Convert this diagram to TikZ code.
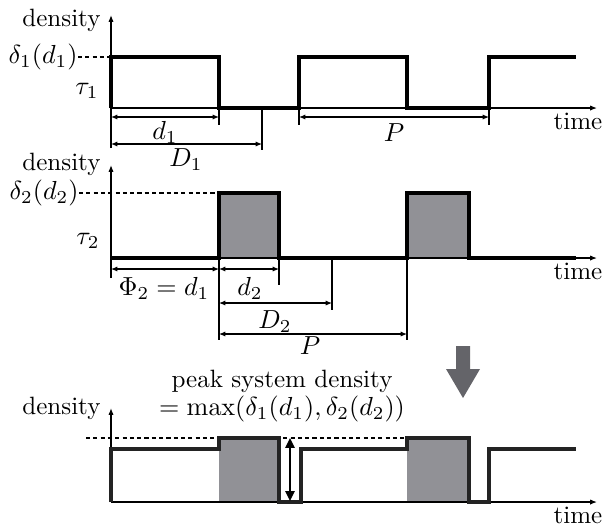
\documentclass[tikz,border=0pt]{standalone}
\usetikzlibrary{arrows.meta}
\definecolor{pulsegray}{RGB}{145,145,150}
\definecolor{bigarrow}{RGB}{100,100,105}
\definecolor{sumline}{RGB}{35,35,35}
\begin{document}
\begin{tikzpicture}[x=0.3833pt,y=-0.3833pt,
  every node/.style={font=\fontsize{9.6pt}{11.2pt}\selectfont},
  sig/.style={line width=1.6pt,line join=miter},
  thinline/.style={line width=0.45pt},
  dimline/.style={line width=0.45pt,{Latex[length=2.4pt,width=2pt]}-{Latex[length=2.4pt,width=2pt]}},
  axisline/.style={line width=0.45pt,-{Latex[length=2.6pt,width=2pt]}},
  guide/.style={line width=0.45pt,dash pattern=on 1.6pt off 1.2pt},
  lbl/.style={inner sep=0pt},
  pulse/.style={fill=pulsegray}]
\useasboundingbox (0,0) rectangle (606,528);

% ---------------- top panel ----------------
\coordinate (a1b) at (111,148); \coordinate (a1t) at (111,15);
\coordinate (t1l) at (111,108); \coordinate (t1r) at (597,108);
\draw[axisline] (a1b) -- (a1t);
\draw[axisline] (t1l) -- (t1r);
\node[lbl,anchor=base east] (den1) at (101,26) {density};
\node[lbl] (time1) at (578,121) {time};
\node[lbl,anchor=east] (delta1) at (78,57) {$\delta_1(d_1)$};
\node[lbl,anchor=east] (tau1) at (99,91) {$\tau_1$};
\coordinate (g1) at (111,57);
\draw[guide] (delta1.east) -- (g1);
\draw[sig] (111,108) -- (111,57) -- (219,57) -- (219,108) -- (299,108) -- (299,57)
  -- (407,57) -- (407,108) -- (489,108) -- (489,57) -- (576,57);
% extension lines
\draw[thinline] (219,108) -- (219,125);
\draw[thinline] (262,108) -- (262,150);
\draw[thinline] (299,108) -- (299,125);
\draw[thinline] (489,108) -- (489,125);
\coordinate (d1a) at (111,117); \coordinate (d1b) at (219,117);
\coordinate (D1a) at (111,144); \coordinate (D1b) at (262,144);
\coordinate (P1a) at (299,117); \coordinate (P1b) at (489,117);
\draw[dimline] (d1a) -- (d1b);
\draw[dimline] (D1a) -- (D1b);
\draw[dimline] (P1a) -- (P1b);
\node[lbl] (d1l) at (165,132) {$d_1$};
\node[lbl] (D1l) at (186,160) {$D_1$};
\node[lbl] (P1l) at (394,133) {$P$};

% ---------------- middle panel ----------------
\fill[pulse] (219,193) rectangle (279,258);
\fill[pulse] (407,193) rectangle (469,258);
\coordinate (a2b) at (111,278); \coordinate (a2t) at (111,165);
\coordinate (t2l) at (111,258); \coordinate (t2r) at (597,258);
\draw[axisline] (a2b) -- (a2t);
\draw[axisline] (t2l) -- (t2r);
\node[lbl,anchor=base east] (den2) at (101,170) {density};
\node[lbl] (time2) at (578,271) {time};
\node[lbl,anchor=east] (delta2) at (79,193) {$\delta_2(d_2)$};
\node[lbl,anchor=east] (tau2) at (100,241) {$\tau_2$};
\coordinate (g2) at (219,193);
\draw[guide] (delta2.east) -- (g2);
\draw[sig] (111,258) -- (219,258) -- (219,193) -- (279,193) -- (279,258) -- (407,258)
  -- (407,193) -- (469,193) -- (469,258) -- (576,258);
\draw[thinline] (219,258) -- (219,340);
\draw[thinline] (279,258) -- (279,285);
\draw[thinline] (332,258) -- (332,310);
\draw[thinline] (407,258) -- (407,340);
\coordinate (f2a) at (111,269); \coordinate (f2b) at (219,269);
\coordinate (d2a) at (219,269); \coordinate (d2b) at (279,269);
\coordinate (D2a) at (219,303); \coordinate (D2b) at (332,303);
\coordinate (P2a) at (219,334); \coordinate (P2b) at (407,334);
\draw[dimline] (f2a) -- (f2b);
\draw[dimline] (d2a) -- (d2b);
\draw[dimline] (D2a) -- (D2b);
\draw[dimline] (P2a) -- (P2b);
\node[lbl] (phil) at (164,288) {$\Phi_2 = d_1$};
\node[lbl] (d2l) at (250,288) {$d_2$};
\node[lbl] (D2l) at (275,322) {$D_2$};
\node[lbl] (P2l) at (310,346) {$P$};

% ---------------- big arrow ----------------
\fill[bigarrow] (456,346) -- (470,346) -- (470,369) -- (480,369) -- (463,398)
  -- (446,369) -- (456,369) -- cycle;

% ---------------- bottom panel ----------------
\node[lbl,align=center] (peak) at (282,396) {peak system density\\[-0.5pt]$=\max(\delta_1(d_1),\delta_2(d_2))$};
\fill[pulse] (219,438) rectangle (279,502);
\fill[pulse] (407,438) rectangle (469,502);
\coordinate (a3b) at (111,502); \coordinate (a3t) at (111,408);
\coordinate (t3l) at (111,502); \coordinate (t3r) at (597,502);
\draw[axisline] (a3b) -- (a3t);
\draw[axisline] (t3l) -- (t3r);
\node[lbl,anchor=base east] (den3) at (101,414) {density};
\node[lbl] (time3) at (578,515) {time};
\coordinate (g3a) at (86,438); \coordinate (g3b) at (471,438);
\draw[guide] (g3a) -- (g3b);
\draw[sig,sumline] (111,502) -- (111,449) -- (219,449) -- (219,438) -- (279,438) -- (279,502)
  -- (301,502) -- (301,449) -- (407,449) -- (407,438) -- (469,438) -- (469,502)
  -- (489,502) -- (489,449) -- (576,449);
\coordinate (pk1) at (290,438); \coordinate (pk2) at (290,501);
\draw[line width=0.5pt,{Triangle[length=3.8pt,width=3.6pt]}-{Triangle[length=3.8pt,width=3.6pt]}] (pk1) -- (pk2);
\end{tikzpicture}
\end{document}
